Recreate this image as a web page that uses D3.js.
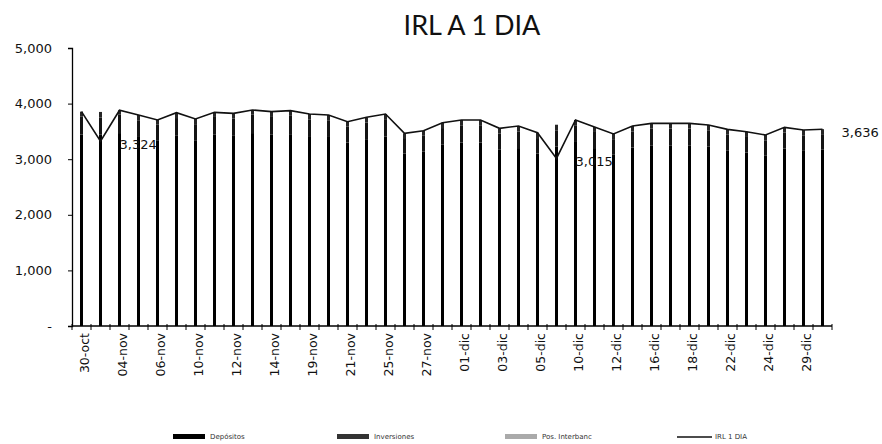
<!DOCTYPE html>
<html>
<head>
<meta charset="utf-8">
<script src="https://cdn.jsdelivr.net/npm/d3@7"></script>
<style>
body { margin: 0; background: #fff; }
</style>
</head>
<body>
<script>
var w = 882;
var h = 444;

var categories = ["30-oct","31-oct","04-nov","05-nov","06-nov","07-nov","10-nov","11-nov","12-nov","13-nov",
                  "14-nov","18-nov","19-nov","20-nov","21-nov","24-nov","25-nov","26-nov","27-nov","28-nov",
                  "01-dic","02-dic","03-dic","04-dic","05-dic","09-dic","10-dic","11-dic","12-dic","15-dic",
                  "16-dic","17-dic","18-dic","19-dic","22-dic","23-dic","24-dic","26-dic","29-dic","30-dic"];

var depositos   = [3445,3440,3470,3400,3330,3430,3330,3440,3420,3470,
                   3440,3450,3400,3400,3300,3360,3410,3100,3140,3260,
                   3300,3300,3170,3200,3100,3230,3310,3200,3080,3210,
                   3250,3250,3250,3230,3160,3120,3070,3190,3150,3170];
var inversiones = [320,310,330,300,290,310,300,320,310,330,
                   320,330,310,300,290,300,310,280,290,300,
                   310,300,290,300,280,290,300,290,280,290,
                   300,300,300,290,280,280,270,290,280,280];
var posInter    = [90,100,80,95,85,97,93,83,95,85,
                   95,93,103,95,85,93,93,85,83,97,
                   95,105,95,97,97,100,95,90,93,97,
                   95,95,95,95,97,95,95,93,95,90];
var irl         = [3855,3324,3880,3795,3705,3837,3723,3843,3825,3885,
                   3855,3873,3813,3795,3675,3753,3813,3465,3513,3657,
                   3705,3705,3555,3597,3477,3015,3705,3580,3453,3597,
                   3645,3645,3645,3615,3537,3495,3435,3573,3525,3540];

var yTicks = [0,1000,2000,3000,4000,5000];
var seriesNames = ["Depósitos","Inversiones","Pos. Interbanc","IRL 1 DIA"];
var seriesColors = ["#000000","#141414","#262626","#111111"];
// points that get a value label (index, text)
var labelIdx = [1,25,39];
var labelText = ["3,324","3,015","3,636"];

var mLeft = 72, mRight = 832, mTop = 48, mBottom = 326;

var svg = d3.select("body").append("svg")
            .attr("width",w)
            .attr("height",h);

var x = d3.scaleBand()
          .domain(categories)
          .range([mLeft,mRight]);

var y = d3.scaleLinear()
          .domain([0,5000])
          .range([mBottom,mTop]);

// title
svg.append("text")
   .text("IRL A 1 DIA")
   .attr("x",472)
   .attr("y",35)
   .attr("font-family","Lato, sans-serif")
   .attr("font-size","27px")
   .attr("fill","#111")
   .attr("text-anchor","middle");

// stacked bars
var rows = categories.map(function(c,i){
    return {cat:c, dep:depositos[i], inv:inversiones[i], pos:posInter[i]};
});
var stack = d3.stack().keys(["dep","inv","pos"]);
var layers = stack(rows);

var barW = 3;
svg.selectAll("g.layer")
   .data(layers)
   .enter()
   .append("g")
   .attr("class","layer")
   .attr("fill",function(d,i){ return seriesColors[i]; })
   .selectAll("rect")
   .data(function(d){ return d; })
   .enter()
   .append("rect")
   .attr("x",function(d){ return x(d.data.cat) + x.bandwidth()/2 - barW/2; })
   .attr("y",function(d){ return y(d[1]); })
   .attr("width",barW)
   .attr("height",function(d){ return y(d[0]) - y(d[1]); });

// y axis
var yAxis = d3.axisLeft(y)
              .tickValues(yTicks)
              .tickSize(4)
              .tickPadding(16)
              .tickFormat(function(d){ return d === 0 ? "-" : d3.format(",")(d); });
var gy = svg.append("g")
   .attr("transform","translate(" + mLeft + ",0)")
   .call(yAxis);
gy.select(".domain").attr("stroke","#000").attr("stroke-width",1.3);
gy.selectAll("text")
   .attr("font-family","DejaVu Sans, sans-serif")
   .attr("font-size","13px")
   .attr("fill","#111");

// x axis, ticks on band edges, labels every other category
var edges = categories.map(function(c){ return x(c); }).concat([mRight]);
var gx = svg.append("g");
gx.append("line")
   .attr("x1",mLeft).attr("x2",mRight)
   .attr("y1",mBottom).attr("y2",mBottom)
   .attr("stroke","#000")
   .attr("stroke-width",1.3);
gx.selectAll("line.tk")
   .data(edges)
   .enter()
   .append("line")
   .attr("class","tk")
   .attr("x1",function(d){ return d; })
   .attr("x2",function(d){ return d; })
   .attr("y1",mBottom - 2)
   .attr("y2",mBottom + 4)
   .attr("stroke","#000");

gx.selectAll("text")
   .data(categories.filter(function(c,i){ return i % 2 === 0; }))
   .enter()
   .append("text")
   .text(function(d){ return d; })
   .attr("transform",function(d){
       return "translate(" + (x(d) + x.bandwidth()/2 + 3.5) + "," + 333 + ") rotate(-90)";
   })
   .attr("dy","0.35em")
   .attr("font-family","DejaVu Sans, sans-serif")
   .attr("font-size","12.5px")
   .attr("fill","#111")
   .attr("text-anchor","end");

// IRL line
var line = d3.line()
             .x(function(d,i){ return x(categories[i]) + x.bandwidth()/2; })
             .y(function(d){ return y(d); });
svg.append("path")
   .datum(irl)
   .attr("d",line)
   .attr("fill","none")
   .attr("stroke","#111")
   .attr("stroke-width",1.6);

// value labels
svg.selectAll("text.vl")
   .data(labelIdx)
   .enter()
   .append("text")
   .attr("class","vl")
   .text(function(d,i){ return labelText[i]; })
   .attr("x",function(d){ return x(categories[d]) + x.bandwidth()/2 + 19; })
   .attr("y",function(d){ return y(irl[d]) + 3; })
   .attr("dy","0.35em")
   .attr("font-family","DejaVu Sans, sans-serif")
   .attr("font-size","13px")
   .attr("fill","#111");

// legend
var legX = [173,337,505,677];
var leg = svg.selectAll("g.leg")
   .data(seriesNames)
   .enter()
   .append("g")
   .attr("class","leg")
   .attr("transform",function(d,i){ return "translate(" + legX[i] + ",437)"; });
leg.filter(function(d,i){ return i < 3; })
   .append("rect")
   .attr("x",0).attr("y",-3)
   .attr("width",32).attr("height",5)
   .attr("fill",function(d,i){ return ["#000","#333","#aaa"][i]; });
leg.filter(function(d,i){ return i === 3; })
   .append("line")
   .attr("x1",0).attr("x2",35)
   .attr("y1",0).attr("y2",0)
   .attr("stroke","#111")
   .attr("stroke-width",1.5);
leg.append("text")
   .text(function(d){ return d; })
   .attr("x",function(d,i){ return i === 3 ? 38 : 37; })
   .attr("y",0)
   .attr("dy","0.35em")
   .attr("font-family","DejaVu Sans, sans-serif")
   .attr("font-size","7px")
   .attr("fill","#333");
</script>
</body>
</html>
